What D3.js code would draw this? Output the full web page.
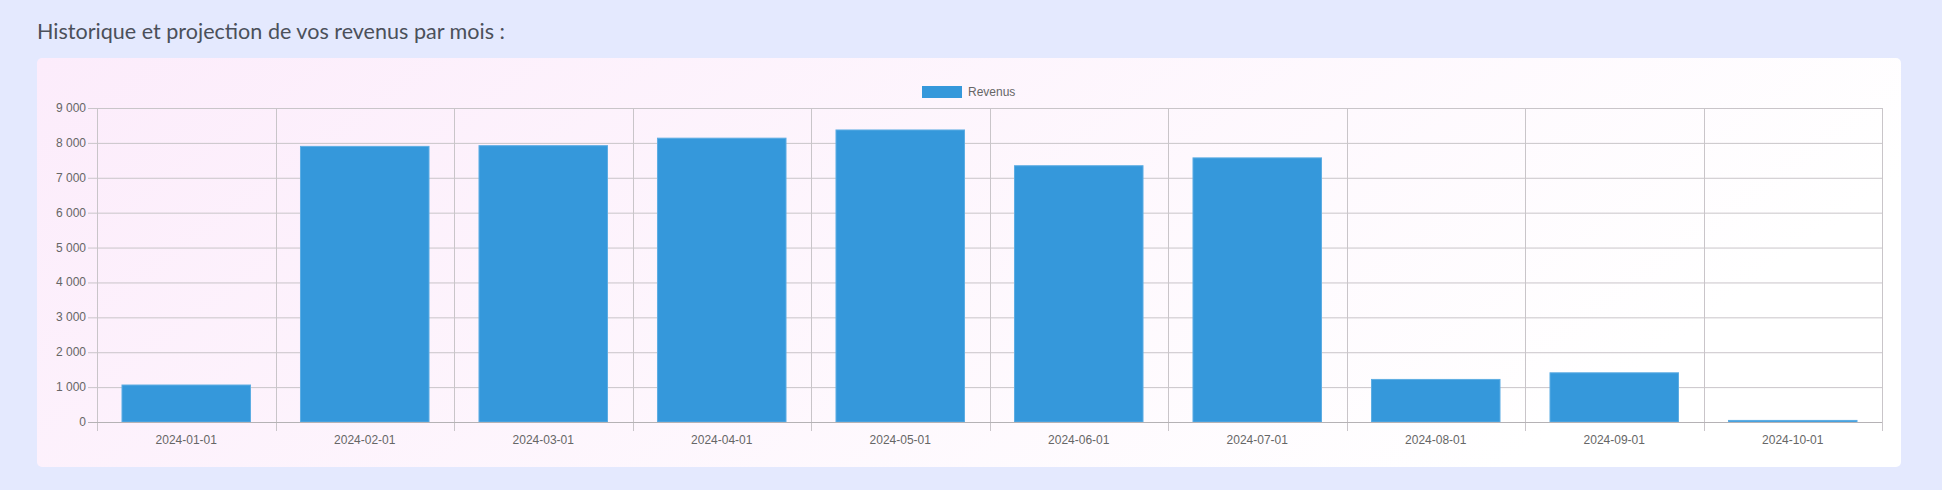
<!DOCTYPE html>
<html><head><meta charset="utf-8">
<script src="https://cdn.jsdelivr.net/npm/d3@7"></script>
<style>
html,body{margin:0;padding:0;background:#e4e9fe;}
svg{display:block;}
</style></head>
<body>
<svg id="c" width="1942" height="490"></svg>
<script>
const categories = ["2024-01-01","2024-02-01","2024-03-01","2024-04-01","2024-05-01","2024-06-01","2024-07-01","2024-08-01","2024-09-01","2024-10-01"];
const revenus = [1060, 7900, 7920, 8135, 8370, 7345, 7570, 1220, 1410, 45];
const yTicks = [0,1000,2000,3000,4000,5000,6000,7000,8000,9000];
const yTickLabels = ["0","1 000","2 000","3 000","4 000","5 000","6 000","7 000","8 000","9 000"];
const seriesName = "Revenus";
const titleText = "Historique et projection de vos revenus par mois :";

const svg = d3.select("#c");
const defs = svg.append("defs");
const grad = defs.append("linearGradient").attr("id","g").attr("x1","0").attr("x2","1").attr("y1","0").attr("y2","0.3");
grad.append("stop").attr("offset","0").attr("stop-color","#fcecfb");
grad.append("stop").attr("offset","1").attr("stop-color","#ffffff");

svg.append("text").attr("x",37).attr("y",39).attr("fill","#4b505a")
  .style("font-family","Lato, 'Open Sans', sans-serif").style("font-size","22px")
  .attr("textLength",468).attr("lengthAdjust","spacingAndGlyphs")
  .text(titleText);

svg.append("rect").attr("x",37).attr("y",58).attr("width",1864).attr("height",409).attr("rx",5).attr("fill","url(#g)");

const L=97, R=1882, T=108, B=422;
const x = d3.scaleBand().domain(categories).range([L,R]).paddingInner(0).paddingOuter(0);
const y = d3.scaleLinear().domain([0,9000]).range([B,T]);
const grid="#c9c5c9";
const font="'Liberation Sans', Arial, sans-serif";

// horizontal gridlines
svg.append("g").selectAll("line").data(yTicks).join("line")
  .attr("x1",L-9).attr("x2",R).attr("y1",d=>y(d)+0.5).attr("y2",d=>y(d)+0.5)
  .attr("stroke",grid).attr("stroke-width",1);
// vertical gridlines at band boundaries
const bounds = categories.map(c=>x(c)).concat([R]);
svg.append("g").selectAll("line").data(bounds).join("line")
  .attr("x1",d=>Math.round(d)+0.5).attr("x2",d=>Math.round(d)+0.5).attr("y1",T).attr("y2",B+9)
  .attr("stroke",grid).attr("stroke-width",1);

// y labels
svg.append("g").selectAll("text").data(yTicks).join("text")
  .attr("x",L-11).attr("y",d=>y(d)+4).attr("text-anchor","end")
  .attr("fill","#666").style("font-family",font).style("font-size","12px")
  .text((d,i)=>yTickLabels[i]);
// x labels
svg.append("g").selectAll("text").data(categories).join("text")
  .attr("x",d=>x(d)+x.bandwidth()/2).attr("y",444).attr("text-anchor","middle")
  .attr("fill","#666").style("font-family",font).style("font-size","12px")
  .text(d=>d);

// bars
const inner = x.bandwidth()*0.72;
svg.append("g").selectAll("rect").data(revenus).join("rect")
  .attr("x",(d,i)=>x(categories[i])+(x.bandwidth()-inner)/2)
  .attr("width",inner)
  .attr("y",d=>y(d))
  .attr("height",d=>B-y(d))
  .attr("fill","#3598db").attr("stroke","#5dade3").attr("stroke-width",1);

// axis baseline
svg.append("line").attr("x1",L-9).attr("x2",R).attr("y1",B+0.5).attr("y2",B+0.5).attr("stroke","#b5b2b5");

// legend
svg.append("rect").attr("x",922).attr("y",86).attr("width",40).attr("height",12).attr("fill","#3598db");
svg.append("text").attr("x",968).attr("y",96).attr("fill","#666")
  .style("font-family",font).style("font-size","12px").text(seriesName);
</script>
</body></html>
